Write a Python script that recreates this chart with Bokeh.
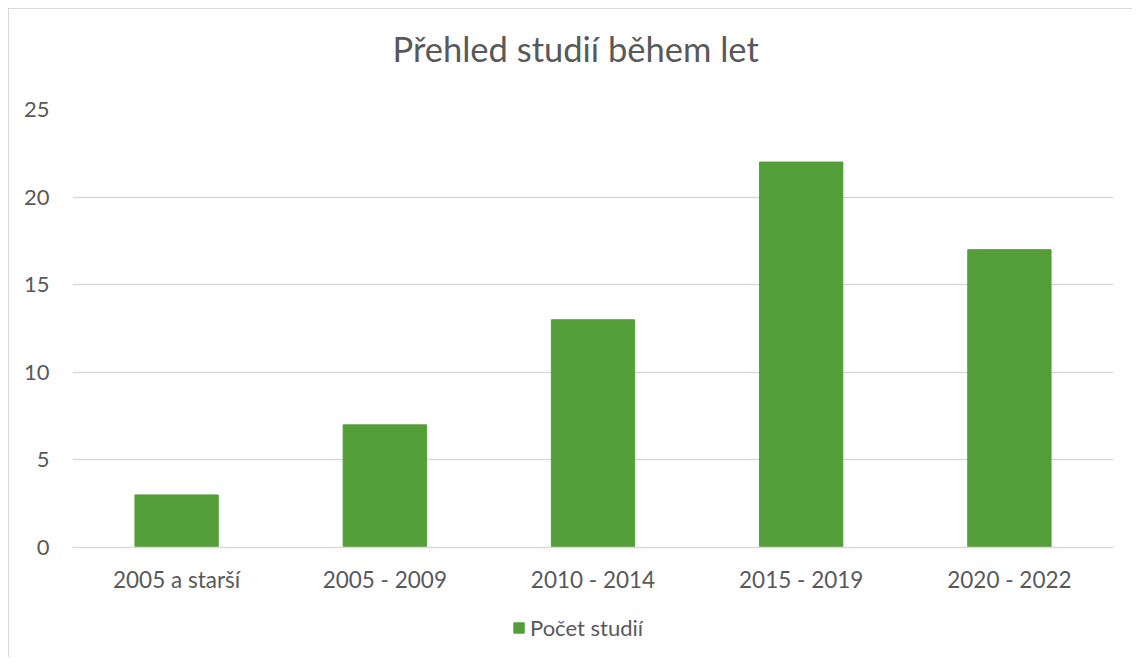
from bokeh.plotting import figure
from bokeh.layouts import column
from bokeh.models import Range1d, FactorRange, Legend, LegendItem, Title
from bokeh.embed import file_html
from bokeh.resources import INLINE

categories = ["2005 a starší", "2005 - 2009", "2010 - 2014", "2015 - 2019", "2020 - 2022"]
values = [3, 7, 13, 22, 17]
y_ticks = [0, 5, 10, 15, 20, 25]
series_name = "Počet studií"
title_text = "Přehled studií během let"

FONT = "Lato"
TEXT = "#595959"
GREEN = "#549E39"
GRID = "#D9D9D9"

x_range = FactorRange(*categories, range_padding=0)

p = figure(
    width=1123, height=598,
    x_range=x_range,
    y_range=Range1d(0, 25),
    output_backend="svg", toolbar_location=None,
    min_border_left=63, min_border_right=19, min_border_top=98, min_border_bottom=60,
)
p.outline_line_color = None
p.background_fill_color = "white"
p.border_fill_color = "white"

r = p.vbar(x=categories, top=values, width=0.4, color=GREEN)

p.title.text = title_text
p.title.align = "left"
p.title.offset = 320
p.title.vertical_align = "top"
p.title.standoff = 36
p.title.text_font = FONT
p.title.text_font_size = "34.5px"
p.title.text_color = TEXT
p.title.text_font_style = "normal"

spacer = Title(text=" ", text_font_size="1px", standoff=18)
p.add_layout(spacer, "above")

p.xgrid.grid_line_color = None
p.ygrid.grid_line_color = GRID
p.ygrid.grid_line_width = 1.3
p.yaxis.ticker = y_ticks
p.yaxis.axis_line_color = None
p.yaxis.major_tick_line_color = None
p.yaxis.minor_tick_line_color = None
p.yaxis.major_label_standoff = 17
p.yaxis.major_label_text_font = FONT
p.yaxis.major_label_text_font_size = "22px"
p.yaxis.major_label_text_color = TEXT

p.xaxis.axis_line_color = GRID
p.xaxis.axis_line_width = 1.3
p.xaxis.major_tick_line_color = None
p.xaxis.minor_tick_line_color = None
p.xaxis.major_label_standoff = 12
p.xaxis.major_label_text_font = FONT
p.xaxis.major_label_text_font_size = "22.5px"
p.xaxis.major_label_text_color = TEXT

# legend strip below the chart (same series, drawn out of view so only the legend shows)
lf = figure(width=1123, height=50, x_range=x_range, y_range=Range1d(100, 101),
            output_backend="svg", toolbar_location=None, min_border=0,
            x_axis_location=None, y_axis_location=None)
lf.outline_line_color = None
lf.xgrid.grid_line_color = None
lf.ygrid.grid_line_color = None
lf.background_fill_color = "white"
lf.border_fill_color = "white"
lr = lf.vbar(x=categories, top=values, width=0.4, color=GREEN)

legend = Legend(items=[LegendItem(label=series_name, renderers=[lr])],
                location=(440, 16), orientation="horizontal",
                glyph_width=13, glyph_height=13, padding=0, margin=0,
                label_height=24,
                label_text_font=FONT, label_text_font_size="22px", label_text_color=TEXT,
                label_standoff=5, border_line_color=None, background_fill_alpha=0)
lf.add_layout(legend, "center")

layout = column(p, lf, spacing=0)
layout.styles = {"margin-left": "8px", "margin-top": "8px",
                 "border-left": "1px solid #D9D9D9", "border-top": "1px solid #D9D9D9"}

open("out.html", "w").write(file_html(layout, INLINE))
